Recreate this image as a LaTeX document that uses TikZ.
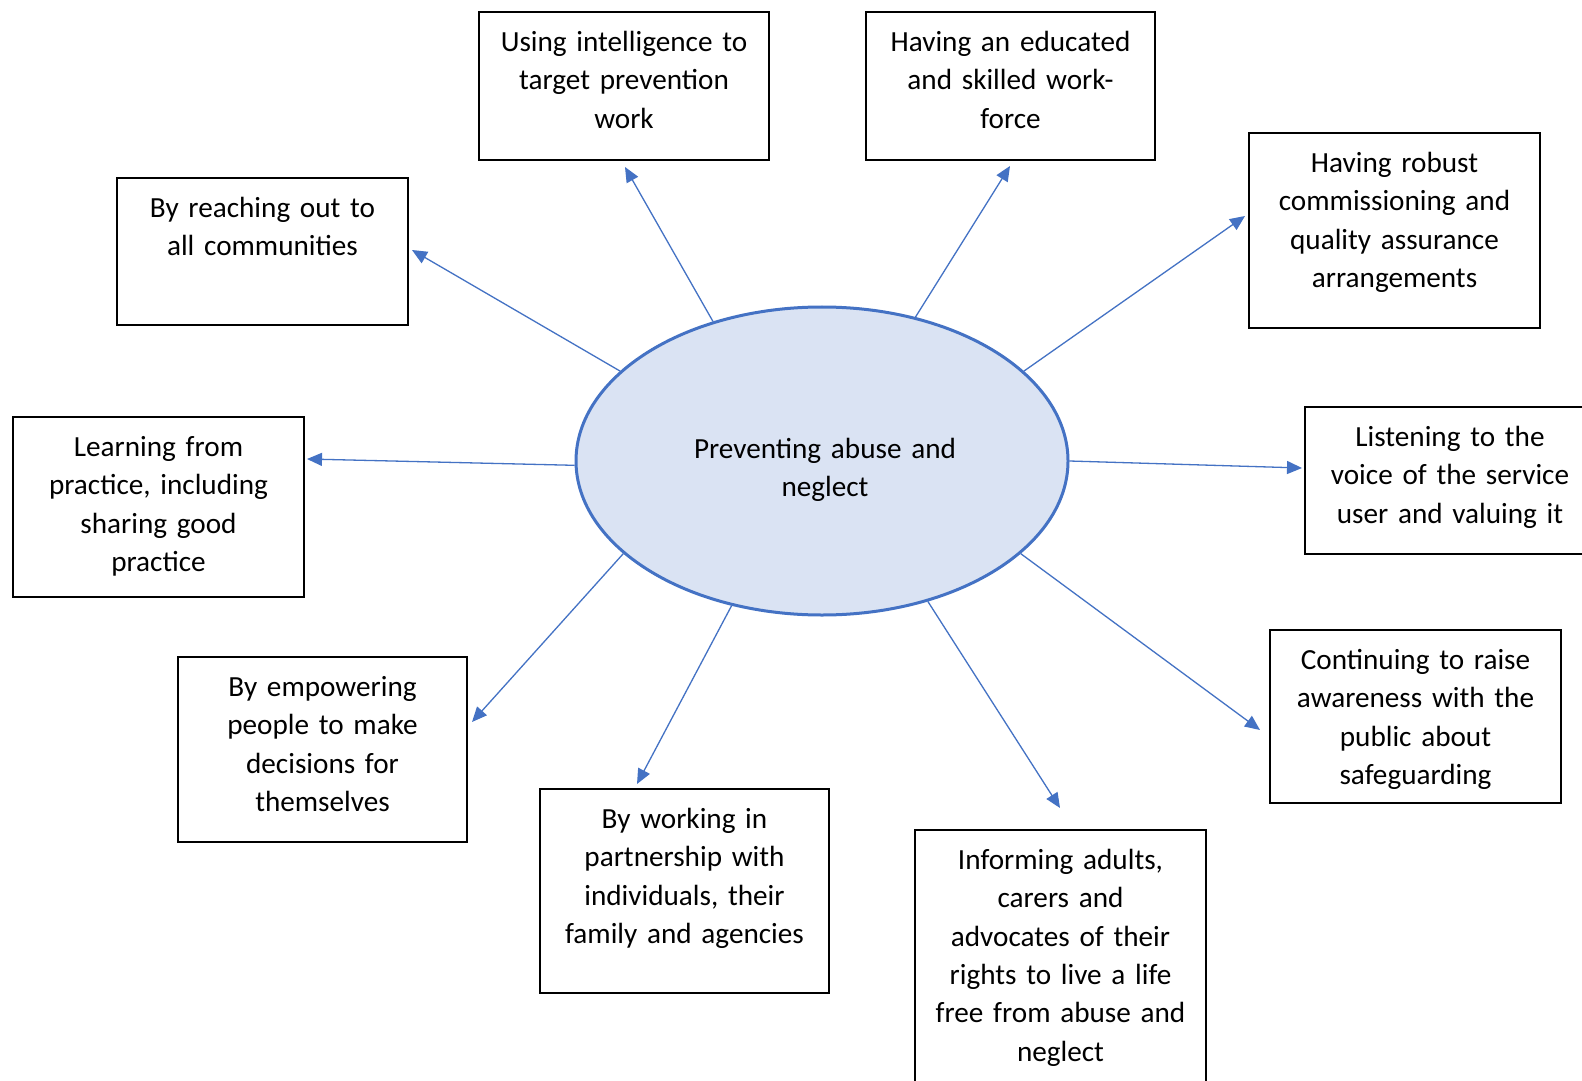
\documentclass[tikz,border=0pt]{standalone}
\usepackage{fontspec}
\setmainfont[WordSpace=0.85]{Carlito}
\usetikzlibrary{shapes.geometric,arrows.meta,fit}
\definecolor{accent}{HTML}{4472C4}
\definecolor{ellfill}{HTML}{DAE3F3}
\begin{document}
\begin{tikzpicture}[x=0.5pt,y=-0.5pt,
  box/.style={draw=black, line width=0.75pt, inner sep=0pt},
  txt/.style={font=\fontsize{14.6}{19.2}\selectfont, align=center, text width=150pt, anchor=base, inner sep=0pt},
  arr/.style={draw=accent, line width=0.65pt, -{Triangle[length=7.5pt,width=6.5pt]}},
  hub/.style={ellipse, draw=accent, fill=ellfill, line width=1.5pt, minimum width=246pt, minimum height=154pt, inner sep=0pt}]
\useasboundingbox (0,0) rectangle (1582,1080);
\clip (0,0) rectangle (1582,1080);
\fill[white] (0,0) rectangle (1582,1080);

% hub
\node[hub] (ell) at (822,461) {};
\node[txt] (ellt) at (825,458) {Preventing abuse and\\neglect};

% boxes
\node[box, fit={(479,12) (769,160)}] (b1) {};
\node[box, fit={(866,12) (1155,160)}] (b2) {};
\node[box, fit={(1249,133) (1540,328)}] (b3) {};
\node[box, fit={(117,178) (408,325)}] (b4) {};
\node[box, fit={(13,417) (304,597)}] (b5) {};
\node[box, fit={(1305,407) (1595,554)}] (b6) {};
\node[box, fit={(1270,630) (1561,803)}] (b7) {};
\node[box, fit={(178,657) (467,842)}] (b8) {};
\node[box, fit={(540,789) (829,993)}] (b9) {};
\node[box, fit={(915,830) (1206,1110)}] (b10) {};

% texts
\node[txt] (t1) at ([yshift=-20pt]b1.north) {Using intelligence to\\target prevention\\work};
\node[txt] (t2) at ([yshift=-20pt]b2.north) {Having an educated\\and skilled work-\\force};
\node[txt] (t3) at ([yshift=-20pt]b3.north) {Having robust\\commissioning and\\quality assurance\\arrangements};
\node[txt] (t4) at ([yshift=-20pt]b4.north) {By reaching out to\\all communities};
\node[txt] (t5) at ([yshift=-20pt]b5.north) {Learning from\\practice, including\\sharing good\\practice};
\node[txt] (t6) at ([yshift=-20pt]b6.north) {Listening to the\\voice of the service\\user and valuing it};
\node[txt] (t7) at ([yshift=-20pt]b7.north) {Continuing to raise\\awareness with the\\public about\\safeguarding};
\node[txt] (t8) at ([yshift=-20pt]b8.north) {By empowering\\people to make\\decisions for\\themselves};
\node[txt] (t9) at ([yshift=-20pt]b9.north) {By working in\\partnership with\\individuals, their\\family and agencies};
\node[txt] (t10) at ([yshift=-20pt]b10.north) {Informing adults,\\carers and\\advocates of their\\rights to live a life\\free from abuse and\\neglect};

% arrow tips
\coordinate (p1) at (625,167);
\coordinate (p2) at (1010,166);
\coordinate (p3) at (1245,216);
\coordinate (p4) at (412,250);
\coordinate (p5) at (307,459);
\coordinate (p6) at (1302,468);
\coordinate (p7) at (1260,730);
\coordinate (p8) at (472,722);
\coordinate (p9) at (637,784);
\coordinate (p10) at (1060,808);

\draw[arr] (ell.128.5) -- (p1);
\draw[arr] (ell.57.5) -- (p2);
\draw[arr] (ell.24) -- (p3);
\draw[arr] (ell.156.3) -- (p4);
\draw[arr] (ell.181.6) -- (p5);
\draw[arr] (ell.0.5) -- (p6);
\draw[arr] (ell.-25.3) -- (p7);
\draw[arr] (ell.205.9) -- (p8);
\draw[arr] (ell.238.9) -- (p9);
\draw[arr] (ell.-53.9) -- (p10);
\end{tikzpicture}
\end{document}
